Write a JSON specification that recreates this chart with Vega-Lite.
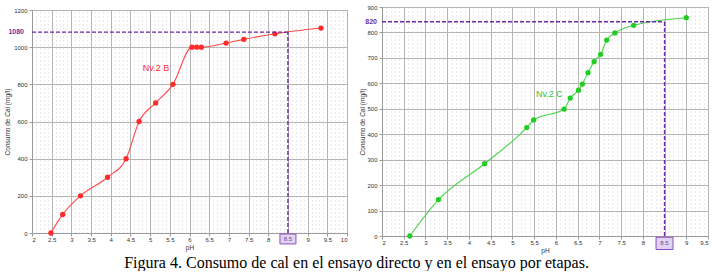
{
  "$schema": "https://vega.github.io/schema/vega-lite/v6.json",
  "padding": {"left": 4, "top": 2, "right": 0, "bottom": 0},
  "background": "white",
  "title": {"text": "Figura 4. Consumo de cal en el ensayo directo y en el ensayo por etapas.", "orient": "bottom", "anchor": "middle", "font": "Liberation Serif", "fontSize": 16, "fontWeight": "normal", "color": "black", "offset": 1},
  "spacing": 11,
  "columns": 2,
  "center": true,
  "config": {
    "view": {"stroke": "#a0a0a0", "strokeWidth": 1},
    "axis": {"labelFont": "Liberation Sans", "labelFontSize": 6, "labelColor": "#333333", "titleFont": "Liberation Sans", "titleFontSize": 6.5, "titleFontWeight": "normal", "titleColor": "#333333", "gridColor": "#b5b5b5", "domainColor": "#9a9a9a", "tickColor": "#9a9a9a", "tickSize": 3}
  },
  "datasets": {
    "B": [
      {"pH": 2.48, "cal": 0}, {"pH": 2.78, "cal": 100}, {"pH": 3.23, "cal": 200}, {"pH": 3.92, "cal": 300},
      {"pH": 4.39, "cal": 400}, {"pH": 4.72, "cal": 600}, {"pH": 5.14, "cal": 700}, {"pH": 5.58, "cal": 800},
      {"pH": 6.06, "cal": 1000}, {"pH": 6.18, "cal": 1000}, {"pH": 6.3, "cal": 1000}, {"pH": 6.93, "cal": 1022},
      {"pH": 7.38, "cal": 1042}, {"pH": 8.17, "cal": 1072}, {"pH": 9.34, "cal": 1103}
    ],
    "C": [
      {"pH": 2.64, "cal": 0}, {"pH": 3.3, "cal": 143}, {"pH": 4.36, "cal": 284}, {"pH": 5.33, "cal": 426},
      {"pH": 5.49, "cal": 456}, {"pH": 6.19, "cal": 499}, {"pH": 6.33, "cal": 542}, {"pH": 6.52, "cal": 573},
      {"pH": 6.61, "cal": 597}, {"pH": 6.74, "cal": 642}, {"pH": 6.88, "cal": 685}, {"pH": 7.03, "cal": 714},
      {"pH": 7.17, "cal": 770}, {"pH": 7.36, "cal": 798}, {"pH": 7.79, "cal": 828}, {"pH": 9.0, "cal": 858}
    ],
    "guideB": [
      {"x": 2, "x2": 8.5, "y": 1081, "y2": 1081},
      {"x": 8.5, "x2": 8.5, "y": 0, "y2": 1081}
    ],
    "guideC": [
      {"x": 2, "x2": 8.5, "y": 842, "y2": 842},
      {"x": 8.5, "x2": 8.5, "y": 0, "y2": 842}
    ],
    "labB": [{"x": 5.15, "y": 887, "t": "Nv.2 B"}],
    "labC": [{"x": 5.85, "y": 558, "t": "Nv.2 C"}],
    "valB": [{"x": 2, "y": 1081, "t": "1080"}],
    "valC": [{"x": 2, "y": 842, "t": "820"}],
    "boxB": [{"x": 8.5, "y": -32, "t": "8.5"}],
    "boxC": [{"x": 8.5, "y": -29, "t": "8.5"}]
  },
  "concat": [
    {
      "width": 315,
      "height": 223,
      "title": {"text": " ", "fontSize": 1, "offset": 3},
      "layer": [
        {
          "data": {"name": "B"},
          "mark": {"type": "line", "interpolate": "monotone", "color": "#ff4a4a", "strokeWidth": 1.1, "point": {"filled": true, "size": 28, "color": "#ff2a2a"}},
          "encoding": {
            "x": {"field": "pH", "type": "quantitative", "scale": {"domain": [2, 10], "nice": false, "zero": false},
              "axis": {"values": [2,2.5,3,3.5,4,4.5,5,5.5,6,6.5,7,7.5,8,8.5,9,9.5,10], "format": "~g", "grid": true, "title": "pH", "labelPadding": 0, "titlePadding": 2}},
            "y": {"field": "cal", "type": "quantitative", "scale": {"domain": [0, 1200], "nice": false},
              "axis": {"values": [0,200,400,600,800,1000,1200], "format": "d", "grid": true, "title": "Consumo de Cal (mg/l)", "labelPadding": 2, "titlePadding": 3}}
          }
        },
        {
          "data": {"name": "B"},
          "mark": {"type": "point", "opacity": 0},
          "encoding": {
            "x": {"field": "pH", "type": "quantitative",
              "axis": {"orient": "top", "values": [2.1,2.2,2.3,2.4,2.6,2.7,2.8,2.9,3.1,3.2,3.3,3.4,3.6,3.7,3.8,3.9,4.1,4.2,4.3,4.4,4.6,4.7,4.8,4.9,5.1,5.2,5.3,5.4,5.6,5.7,5.8,5.9,6.1,6.2,6.3,6.4,6.6,6.7,6.8,6.9,7.1,7.2,7.3,7.4,7.6,7.7,7.8,7.9,8.1,8.2,8.3,8.4,8.6,8.7,8.8,8.9,9.1,9.2,9.3,9.4,9.6,9.7,9.8,9.9], "grid": true, "gridDash": [1, 3], "gridColor": "#dccfe0", "labels": false, "ticks": false, "domain": false, "title": null}},
            "y": {"field": "cal", "type": "quantitative", "axis": {"values": [0,200,400,600,800,1000,1200], "format": "d", "grid": true, "title": "Consumo de Cal (mg/l)", "labelPadding": 2, "titlePadding": 3}}
          }
        },
        {
          "data": {"name": "guideB"},
          "mark": {"type": "rule", "color": "#6a2aa8", "strokeWidth": 1.4, "strokeDash": [4, 2]},
          "encoding": {
            "x": {"field": "x", "type": "quantitative", "axis": null}, "x2": {"field": "x2"},
            "y": {"field": "y", "type": "quantitative", "axis": {"values": [0,200,400,600,800,1000,1200], "format": "d", "grid": true, "title": "Consumo de Cal (mg/l)", "labelPadding": 2, "titlePadding": 3}}, "y2": {"field": "y2"}
          }
        },
        {
          "data": {"name": "labB"},
          "mark": {"type": "text", "color": "#ff2a2a", "font": "Liberation Sans", "fontSize": 9},
          "encoding": {"x": {"field": "x", "type": "quantitative", "axis": null}, "y": {"field": "y", "type": "quantitative", "axis": {"values": [0,200,400,600,800,1000,1200], "format": "d", "grid": true, "title": "Consumo de Cal (mg/l)", "labelPadding": 2, "titlePadding": 3}}, "text": {"field": "t"}}
        },
        {
          "data": {"name": "valB"},
          "mark": {"type": "text", "color": "#7030a0", "font": "Liberation Sans", "fontSize": 7, "fontWeight": "bold", "align": "right", "dx": -8},
          "encoding": {"x": {"field": "x", "type": "quantitative", "axis": null}, "y": {"field": "y", "type": "quantitative", "axis": {"values": [0,200,400,600,800,1000,1200], "format": "d", "grid": true, "title": "Consumo de Cal (mg/l)", "labelPadding": 2, "titlePadding": 3}}, "text": {"field": "t"}}
        },
        {
          "data": {"name": "boxB"},
          "mark": {"type": "point", "shape": "M-1,-0.62H1V0.62H-1Z", "size": 256, "filled": true, "fill": "#e2d2f2", "stroke": "#8a50c0", "strokeWidth": 1, "opacity": 1},
          "encoding": {"x": {"field": "x", "type": "quantitative", "axis": null}, "y": {"field": "y", "type": "quantitative", "axis": {"values": [0,200,400,600,800,1000,1200], "format": "d", "grid": true, "title": "Consumo de Cal (mg/l)", "labelPadding": 2, "titlePadding": 3}}}
        },
        {
          "data": {"name": "boxB"},
          "mark": {"type": "text", "color": "#6a4a90", "font": "Liberation Sans", "fontSize": 6},
          "encoding": {"x": {"field": "x", "type": "quantitative", "axis": null}, "y": {"field": "y", "type": "quantitative", "axis": {"values": [0,200,400,600,800,1000,1200], "format": "d", "grid": true, "title": "Consumo de Cal (mg/l)", "labelPadding": 2, "titlePadding": 3}}, "text": {"field": "t"}}
        }
      ],
      "resolve": {"axis": {"x": "independent"}}
    },
    {
      "width": 326,
      "height": 229,
      "layer": [
        {
          "data": {"name": "C"},
          "mark": {"type": "line", "interpolate": "monotone", "color": "#4cd44c", "strokeWidth": 1.1, "point": {"filled": true, "size": 28, "color": "#22cc22"}},
          "encoding": {
            "x": {"field": "pH", "type": "quantitative", "scale": {"domain": [2, 9.5], "nice": false, "zero": false},
              "axis": {"values": [2,2.5,3,3.5,4,4.5,5,5.5,6,6.5,7,7.5,8,8.5,9,9.5], "format": "~g", "grid": true, "title": "pH", "labelPadding": 0, "titlePadding": 2}},
            "y": {"field": "cal", "type": "quantitative", "scale": {"domain": [0, 900], "nice": false},
              "axis": {"values": [0,100,200,300,400,500,600,700,800,900], "format": "d", "grid": true, "title": "Consumo de Cal (mg/l)", "labelPadding": 2, "titlePadding": 1}}
          }
        },
        {
          "data": {"name": "C"},
          "mark": {"type": "point", "opacity": 0},
          "encoding": {
            "x": {"field": "pH", "type": "quantitative",
              "axis": {"orient": "top", "values": [2.1,2.2,2.3,2.4,2.6,2.7,2.8,2.9,3.1,3.2,3.3,3.4,3.6,3.7,3.8,3.9,4.1,4.2,4.3,4.4,4.6,4.7,4.8,4.9,5.1,5.2,5.3,5.4,5.6,5.7,5.8,5.9,6.1,6.2,6.3,6.4,6.6,6.7,6.8,6.9,7.1,7.2,7.3,7.4,7.6,7.7,7.8,7.9,8.1,8.2,8.3,8.4,8.6,8.7,8.8,8.9,9.1,9.2,9.3,9.4], "grid": true, "gridDash": [1, 3], "gridColor": "#dccfe0", "labels": false, "ticks": false, "domain": false, "title": null}},
            "y": {"field": "cal", "type": "quantitative", "axis": {"values": [0,100,200,300,400,500,600,700,800,900], "format": "d", "grid": true, "title": "Consumo de Cal (mg/l)", "labelPadding": 2, "titlePadding": 1}}
          }
        },
        {
          "data": {"name": "guideC"},
          "mark": {"type": "rule", "color": "#6a2aa8", "strokeWidth": 1.4, "strokeDash": [4, 2]},
          "encoding": {
            "x": {"field": "x", "type": "quantitative", "axis": null}, "x2": {"field": "x2"},
            "y": {"field": "y", "type": "quantitative", "axis": {"values": [0,100,200,300,400,500,600,700,800,900], "format": "d", "grid": true, "title": "Consumo de Cal (mg/l)", "labelPadding": 2, "titlePadding": 1}}, "y2": {"field": "y2"}
          }
        },
        {
          "data": {"name": "labC"},
          "mark": {"type": "text", "color": "#33c433", "font": "Liberation Sans", "fontSize": 9},
          "encoding": {"x": {"field": "x", "type": "quantitative", "axis": null}, "y": {"field": "y", "type": "quantitative", "axis": {"values": [0,100,200,300,400,500,600,700,800,900], "format": "d", "grid": true, "title": "Consumo de Cal (mg/l)", "labelPadding": 2, "titlePadding": 1}}, "text": {"field": "t"}}
        },
        {
          "data": {"name": "valC"},
          "mark": {"type": "text", "color": "#7030a0", "font": "Liberation Sans", "fontSize": 7, "fontWeight": "bold", "align": "right", "dx": -5},
          "encoding": {"x": {"field": "x", "type": "quantitative", "axis": null}, "y": {"field": "y", "type": "quantitative", "axis": {"values": [0,100,200,300,400,500,600,700,800,900], "format": "d", "grid": true, "title": "Consumo de Cal (mg/l)", "labelPadding": 2, "titlePadding": 1}}, "text": {"field": "t"}}
        },
        {
          "data": {"name": "boxC"},
          "mark": {"type": "point", "shape": "M-1,-0.72H1V0.72H-1Z", "size": 289, "filled": true, "fill": "#e2d2f2", "stroke": "#8a50c0", "strokeWidth": 1, "opacity": 1},
          "encoding": {"x": {"field": "x", "type": "quantitative", "axis": null}, "y": {"field": "y", "type": "quantitative", "axis": {"values": [0,100,200,300,400,500,600,700,800,900], "format": "d", "grid": true, "title": "Consumo de Cal (mg/l)", "labelPadding": 2, "titlePadding": 1}}}
        },
        {
          "data": {"name": "boxC"},
          "mark": {"type": "text", "color": "#6a4a90", "font": "Liberation Sans", "fontSize": 6},
          "encoding": {"x": {"field": "x", "type": "quantitative", "axis": null}, "y": {"field": "y", "type": "quantitative", "axis": {"values": [0,100,200,300,400,500,600,700,800,900], "format": "d", "grid": true, "title": "Consumo de Cal (mg/l)", "labelPadding": 2, "titlePadding": 1}}, "text": {"field": "t"}}
        }
      ],
      "resolve": {"axis": {"x": "independent"}}
    }
  ]
}
